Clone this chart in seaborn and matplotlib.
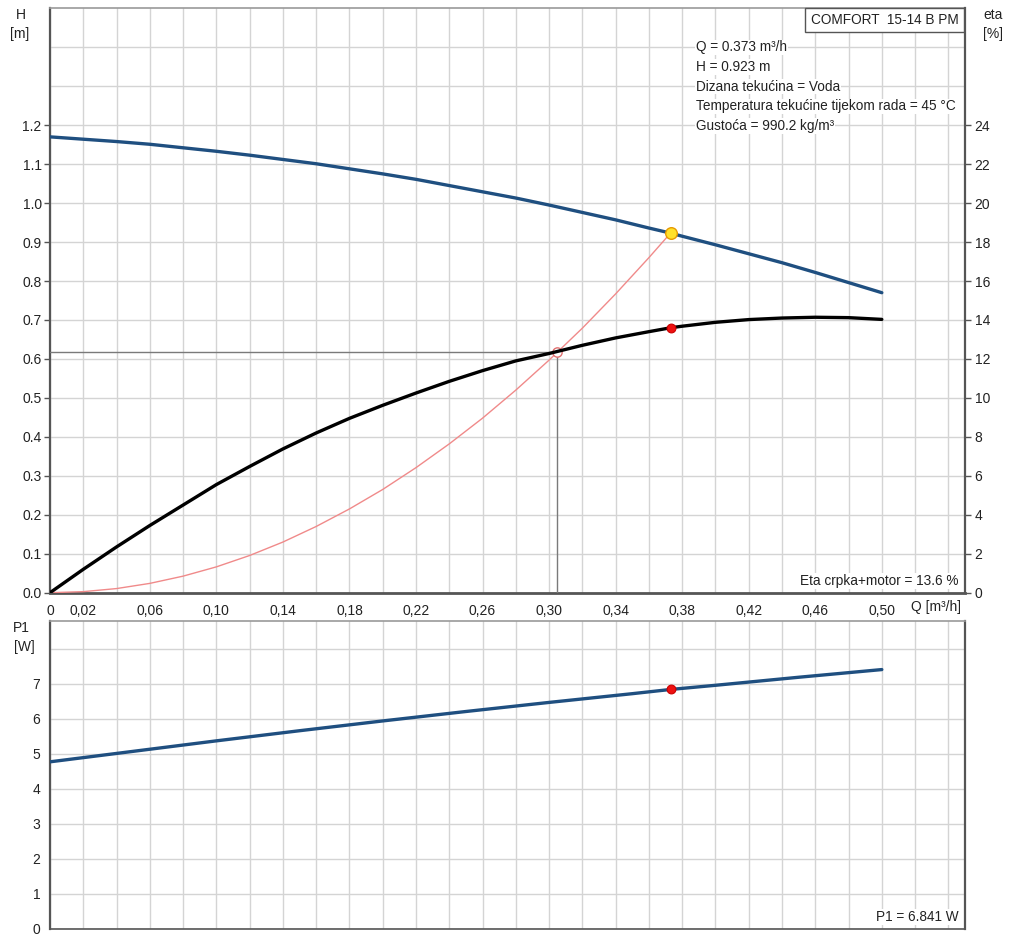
import matplotlib
matplotlib.use("Agg")
import matplotlib.pyplot as plt
import seaborn as sns
import pandas as pd

# ---------------- data ----------------
q_head = [0.00, 0.02, 0.04, 0.06, 0.08, 0.10, 0.12, 0.14, 0.16, 0.18, 0.20, 0.22, 0.24, 0.26,
          0.28, 0.30, 0.32, 0.34, 0.36, 0.373, 0.38, 0.40, 0.42, 0.44, 0.46, 0.48, 0.50]
h_head = [1.170, 1.164, 1.158, 1.151, 1.142, 1.133, 1.123, 1.112, 1.101, 1.088, 1.075, 1.061,
          1.045, 1.029, 1.013, 0.995, 0.976, 0.957, 0.936, 0.923, 0.915, 0.893, 0.870, 0.847,
          0.822, 0.796, 0.770]

q_eta = [0.00, 0.02, 0.04, 0.06, 0.08, 0.10, 0.12, 0.14, 0.16, 0.18, 0.20, 0.22, 0.24,
         0.26, 0.28, 0.30, 0.32, 0.34, 0.36, 0.373, 0.38, 0.40, 0.42, 0.44, 0.46, 0.48, 0.50]
eta_vals = [0.0, 1.20, 2.35, 3.45, 4.50, 5.55, 6.48, 7.38, 8.20, 8.95, 9.62, 10.25, 10.85,
            11.40, 11.90, 12.28, 12.70, 13.08, 13.40, 13.60, 13.68, 13.88, 14.02, 14.10, 14.14,
            14.12, 14.03]

q_sys = [0.00, 0.02, 0.04, 0.06, 0.08, 0.10, 0.12, 0.14, 0.16, 0.18, 0.20, 0.22, 0.24,
         0.26, 0.28, 0.30, 0.32, 0.34, 0.36, 0.373]
h_sys = [0.0, 0.0027, 0.0106, 0.0239, 0.0425, 0.0663, 0.0955, 0.130, 0.170, 0.215, 0.265,
         0.321, 0.382, 0.448, 0.520, 0.597, 0.679, 0.767, 0.860, 0.923]

q_p1 = [0.00, 0.05, 0.10, 0.15, 0.20, 0.25, 0.30, 0.35, 0.373, 0.40, 0.45, 0.50]
p1_vals = [4.77, 5.07, 5.37, 5.66, 5.94, 6.21, 6.47, 6.72, 6.841, 6.96, 7.19, 7.41]

duty_q = 0.373
duty_h = 0.923
duty_eta = 13.6
duty_p1 = 6.841
cross_q = 0.305
cross_h = 0.618

x_label_vals = [0.0, 0.02, 0.06, 0.10, 0.14, 0.18, 0.22, 0.26, 0.30, 0.34, 0.38, 0.42, 0.46, 0.50]
x_labels = ["0", "0,02", "0,06", "0,10", "0,14", "0,18", "0,22", "0,26", "0,30",
            "0,34", "0,38", "0,42", "0,46", "0,50"]
x_minor = [0.04, 0.08, 0.12, 0.16, 0.20, 0.24, 0.28, 0.32, 0.36, 0.40, 0.44, 0.48, 0.52]
h_ticks = [0.0, 0.1, 0.2, 0.3, 0.4, 0.5, 0.6, 0.7, 0.8, 0.9, 1.0, 1.1, 1.2]
eta_ticks = [0, 2, 4, 6, 8, 10, 12, 14, 16, 18, 20, 22, 24]
p1_ticks = [0, 1, 2, 3, 4, 5, 6, 7]

info_lines = ["Q = 0.373 m³/h", "H = 0.923 m", "Dizana tekućina = Voda",
              "Temperatura tekućine tijekom rada = 45 °C", "Gustoća = 990.2 kg/m³"]

# ---------------- style ----------------
sns.set_theme(style="white")
plt.rcParams['font.family'] = ['Liberation Sans', 'DejaVu Sans']
TXT = "#222222"
GRID = "#d4d4d4"
SPINE = "#555555"
BLUE = "#1f4f80"
FS = 10
FS_INFO = 9.8

W, H = 1011, 935
fig = plt.figure(figsize=(W / 100, H / 100), dpi=100)
fig.patch.set_facecolor("white")

def fx(px):
    return px / W

def fy(py):
    return 1 - py / H

ax = fig.add_axes([fx(50), fy(592.7), fx(965) - fx(50), fy(8.3) - fy(592.7)])
axb = fig.add_axes([fx(50), fy(928.5), fx(965) - fx(50), fy(621) - fy(928.5)])

# ---------------- top panel ----------------
df_h = pd.DataFrame({"Q": q_head, "H": h_head})
df_sys = pd.DataFrame({"Q": q_sys, "H": h_sys})
sns.lineplot(data=df_h, x="Q", y="H", ax=ax, color=BLUE, linewidth=2.4, zorder=5)
sns.lineplot(data=df_sys, x="Q", y="H", ax=ax, color="#f08a8a", linewidth=1.0, zorder=4)
ax.plot([0, cross_q], [cross_h, cross_h], color="#7a7a7a", linewidth=1.0, zorder=3)
ax.plot([cross_q, cross_q], [0, cross_h], color="#7a7a7a", linewidth=1.0, zorder=3)
ax.scatter([duty_q], [duty_h], s=70, color="#ffe12a", edgecolors="#e69a00", linewidths=1.0, zorder=7)
ax.scatter([cross_q], [cross_h], s=45, color="white", edgecolors="#e07070", linewidths=1.0, zorder=7)

ax.set_xlim(0, 0.55)
ax.set_ylim(0, 1.5)
ax.set_xticks(x_label_vals + [0.54])
ax.set_xticklabels(x_labels + [""])
ax.set_xticks(x_minor, minor=True)
ax.tick_params(axis="x", which="major", length=0, labelsize=FS, colors=TXT, pad=8)
ax.tick_params(axis="x", which="minor", length=4, width=1, color=SPINE, direction="out")
ax.set_yticks(h_ticks)
ax.set_yticklabels([f"{v:.1f}" for v in h_ticks])
ax.set_yticks([1.3, 1.4], minor=True)
ax.tick_params(axis="y", which="major", length=4, width=1, color=SPINE, labelsize=FS, labelcolor=TXT, direction="out", pad=2)
ax.tick_params(axis="y", which="minor", length=0)
ax.grid(True, which="both", color=GRID, linewidth=1.0)
ax.set_axisbelow(True)
ax.set_xlabel("")
ax.set_ylabel("")
for s in ax.spines.values():
    s.set_color(SPINE)
    s.set_linewidth(1.2)
ax.spines["top"].set_color("#9a9a9a")
ax.spines["bottom"].set_linewidth(2.0)
ax.spines["left"].set_linewidth(1.6)

ax2 = ax.twinx()
df_eta = pd.DataFrame({"Q": q_eta, "eta": eta_vals})
sns.lineplot(data=df_eta, x="Q", y="eta", ax=ax2, color="black", linewidth=2.4, zorder=5)
ax2.scatter([duty_q], [duty_eta], s=40, color="#ee1111", edgecolors="#cc0000", linewidths=0.8, zorder=8)
ax2.set_ylim(0, 30)
ax2.set_yticks(eta_ticks)
ax2.set_yticklabels([str(v) for v in eta_ticks])
ax2.tick_params(axis="y", length=4, width=1, color=SPINE, labelsize=FS, labelcolor=TXT, direction="out", pad=3)
ax2.set_ylabel("")
ax2.grid(False)
for s in ax2.spines.values():
    s.set_visible(False)
ax2.spines["right"].set_visible(True)
ax2.spines["right"].set_color(SPINE)
ax2.spines["right"].set_linewidth(1.6)

# texts top panel
fig.text(fx(20.5), fy(15), "H", ha="center", va="center", fontsize=FS, color=TXT)
fig.text(fx(19.5), fy(34), "[m]", ha="center", va="center", fontsize=FS, color=TXT)
fig.text(fx(993), fy(15), "eta", ha="center", va="center", fontsize=FS, color=TXT)
fig.text(fx(993), fy(34), "[%]", ha="center", va="center", fontsize=FS, color=TXT)
fig.text(fx(936), fy(607), "Q [m³/h]", ha="center", va="center", fontsize=FS, color=TXT)
fig.text(fx(884.5), fy(20), "COMFORT  15-14 B PM", ha="center", va="center", fontsize=FS_INFO, color=TXT,
         bbox=dict(boxstyle="square,pad=0.4", facecolor="white", edgecolor="#555555", linewidth=1.0))
for i, line in enumerate(info_lines):
    fig.text(fx(696), fy(47.5 + i * 19.6), line, ha="left", va="center", fontsize=FS_INFO, color=TXT,
             bbox=dict(boxstyle="square,pad=0.05", facecolor="white", edgecolor="none"))
fig.text(fx(958), fy(581), "Eta crpka+motor = 13.6 %", ha="right", va="center", fontsize=FS_INFO, color=TXT,
         bbox=dict(boxstyle="square,pad=0.1", facecolor="white", edgecolor="none"))

# ---------------- bottom panel ----------------
df_p1 = pd.DataFrame({"Q": q_p1, "P1": p1_vals})
sns.lineplot(data=df_p1, x="Q", y="P1", ax=axb, color=BLUE, linewidth=2.4, zorder=5)
axb.scatter([duty_q], [duty_p1], s=40, color="#ee1111", edgecolors="#cc0000", linewidths=0.8, zorder=8)
axb.set_xlim(0, 0.55)
axb.set_ylim(0, 8.8)
axb.set_xticks(x_label_vals + [0.54])
axb.set_xticks(x_minor, minor=True)
axb.tick_params(axis="x", which="both", length=0, labelbottom=False)
axb.set_yticks(p1_ticks + [8])
axb.set_yticklabels([str(v) for v in p1_ticks] + [""])
axb.tick_params(axis="y", length=4, width=1, color=SPINE, labelsize=FS, labelcolor=TXT, direction="out", pad=3)
axb.grid(True, which="both", color=GRID, linewidth=1.0)
axb.set_axisbelow(True)
axb.set_xlabel("")
axb.set_ylabel("")
for s in axb.spines.values():
    s.set_color(SPINE)
    s.set_linewidth(1.2)
axb.spines["top"].set_color("#9a9a9a")
axb.spines["left"].set_linewidth(1.6)
axb.spines["right"].set_linewidth(1.6)

fig.text(fx(21.5), fy(628), "P1", ha="center", va="center", fontsize=FS, color=TXT)
fig.text(fx(24.5), fy(647), "[W]", ha="center", va="center", fontsize=FS, color=TXT)
fig.text(fx(959), fy(917), "P1 = 6.841 W", ha="right", va="center", fontsize=FS_INFO, color=TXT,
         bbox=dict(boxstyle="square,pad=0.1", facecolor="white", edgecolor="none"))

fig.savefig("out.png", dpi=100, facecolor="white")
